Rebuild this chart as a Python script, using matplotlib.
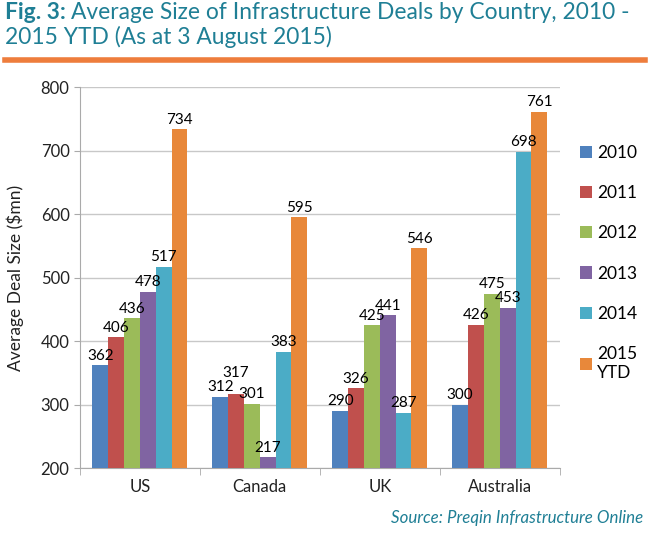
import numpy as np
import matplotlib.pyplot as plt
from matplotlib.lines import Line2D

# data
countries = ["US", "Canada", "UK", "Australia"]
years = ["2010", "2011", "2012", "2013", "2014", "2015\nYTD"]
v2010 = [362, 312, 290, 300]
v2011 = [406, 317, 326, 426]
v2012 = [436, 301, 425, 475]
v2013 = [478, 217, 441, 453]
v2014 = [517, 383, 287, 698]
v2015 = [734, 595, 546, 761]
series = [v2010, v2011, v2012, v2013, v2014, v2015]

colors = ["#4F81BD", "#C0504D", "#9BBB59", "#8064A2", "#4BACC6", "#E8883A"]
teal = "#1F7F95"

plt.rcParams['font.family'] = ['Lato', 'DejaVu Sans']

fig = plt.figure(figsize=(6.5, 5.35), dpi=100)
ax = fig.add_axes([0.123, 0.125, 0.738, 0.712])

x = np.arange(len(countries))
w = 0.132
for i, vals in enumerate(series):
    xs = x + (i - 2.5) * w
    ax.bar(xs, np.array(vals) - 200, bottom=200, width=w, color=colors[i],
           label=years[i], zorder=3)
    for xx, v in zip(xs, vals):
        dy = 4
        if v == 317:
            dy = 22  # excel nudged this one up
        ax.text(xx, v + dy, str(v), ha='center', va='bottom', fontsize=11,
                color='black', zorder=4)

ax.set_ylim(200, 800)
ax.set_xlim(-0.5, len(countries) - 0.5)
ax.set_yticks(range(200, 801, 100))
ax.yaxis.grid(True, color='#C8C8C8', linewidth=1, zorder=0)
ax.set_ylabel("Average Deal Size ($mn)", fontsize=12.5, color='#222222',
              labelpad=12)
ax.tick_params(axis='y', labelsize=12, length=4, color='#AAAAAA', colors='#222222')
ax.set_xticks(x)
ax.set_xticklabels(countries, fontsize=12)
ax.tick_params(axis='x', length=0, pad=8, colors='#222222')
# category separators
ax.set_xticks(np.arange(-0.5, len(countries)), minor=True)
ax.tick_params(axis='x', which='minor', length=5, color='#AAAAAA')
for s in ['top', 'right']:
    ax.spines[s].set_visible(False)
for s in ['left', 'bottom']:
    ax.spines[s].set_color('#AAAAAA')

leg = ax.legend(loc='upper left', bbox_to_anchor=(1.01, 0.89), frameon=False,
                fontsize=12.5, handlelength=0.7, handleheight=0.7,
                handletextpad=0.3, labelspacing=1.4)

# title
t1 = fig.text(0.008, 0.965, "Fig. 3:", fontsize=16.4, fontweight='bold',
              color=teal, va='baseline')
fig.canvas.draw()
bb = t1.get_window_extent()
x2 = (bb.x1 + 5) / fig.bbox.width
fig.text(x2, 0.965, "Average Size of Infrastructure Deals by Country, 2010 -",
         fontsize=16.4, color=teal, va='baseline')
fig.text(0.008, 0.918, "2015 YTD (As at 3 August 2015)", fontsize=16.4,
         color=teal, va='baseline')
fig.add_artist(Line2D([0.008, 0.992], [0.888, 0.888], color='#EE7D3C',
                      linewidth=4, transform=fig.transFigure))

fig.text(0.99, 0.022, "Source: Preqin Infrastructure Online", fontsize=12.2,
         style='italic', color=teal, ha='right', va='baseline')

fig.savefig("out.png", dpi=100)
